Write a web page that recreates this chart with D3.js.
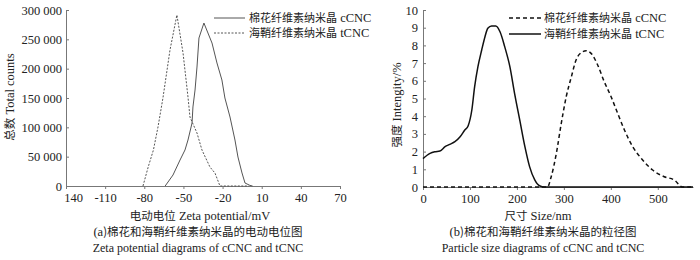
<!DOCTYPE html>
<html><head><meta charset="utf-8">
<script src="https://cdn.jsdelivr.net/npm/d3@7"></script>
<style>
html,body{margin:0;padding:0;background:#fff;}
svg{display:block;}
</style></head>
<body>
<svg id="c" width="700" height="260"></svg>
<script>
// ---- data ----
const zetaTicks = [-140, -110, -80, -50, -20, 10, 40, 70];
const zetaTickLabels = ["140", "-110", "-80", "-50", "-20", "10", "40", "70"];
const countTicks = [0, 50000, 100000, 150000, 200000, 250000, 300000];
const countTickLabels = ["0", "50 000", "100 000", "150 000", "200 000", "250 000", "300 000"];

const cCNC_zeta_x = [-64, -58, -52.6, -48.8, -46.5, -43.4, -42.7, -41.1, -39.6, -38.1, -34.3, -28.1, -24.3, -20.5, -18.2, -14.3, -10.5, -8.2, -5.1, -2.8, 1, 3];
const cCNC_zeta_y = [0, 18700, 44300, 61400, 78400, 107400, 134700, 163600, 202800, 252300, 277800, 243700, 209700, 180700, 150000, 117600, 78400, 49400, 22200, 5100, 1000, 0];
const tCNC_zeta_x = [-81, -77, -73, -69.5, -65.7, -60.3, -55, -50.3, -46.5, -45, -39.6, -35.8, -29.7, -25.8, -22, 0];
const tCNC_zeta_y = [0, 32400, 61400, 100500, 150000, 231800, 291500, 226700, 151700, 117600, 90300, 61400, 32400, 22000, 0, 0];

const sizeTicks = [0, 100, 200, 300, 400, 500];
const intTicks = [0, 1, 2, 3, 4, 5, 6, 7, 8, 9, 10];

const tCNC_size_x = [0, 15, 25, 36, 47, 57, 68, 79, 89, 96, 104, 110, 117, 125, 132, 138, 146, 155, 164, 174, 185, 195, 206, 217, 227, 238, 248, 259, 575];
const tCNC_size_y = [1.6, 1.9, 1.99, 2.03, 2.28, 2.41, 2.56, 2.84, 3.22, 3.45, 4.35, 5.67, 6.8, 7.74, 8.49, 8.97, 9.1, 9.1, 8.77, 7.93, 6.8, 5.29, 3.79, 2.28, 1.15, 0.4, 0.07, 0, 0];
const cCNC_size_x = [0, 265, 273, 284, 294.5, 305, 316, 326, 337, 347.5, 358, 372, 386, 400.6, 414.6, 429, 446.5, 467.7, 489, 513.8, 535, 552.7, 575];
const cCNC_size_y = [0, 0, 0.58, 1.9, 3.6, 5.1, 6.23, 7.18, 7.59, 7.7, 7.55, 6.89, 5.95, 5.1, 4.16, 3.22, 2.28, 1.53, 0.96, 0.58, 0.4, 0, 0];

// ---- drawing ----
const svg = d3.select("#c");
const LAT = "'Liberation Serif','Times New Roman',serif";
const CJK = "'Noto Sans CJK SC','Noto Sans CJK JP',sans-serif";
const TXT = "#222";

function mixed(sel, parts, latSize, cjkSize) {
  parts.forEach(p => {
    sel.append("tspan")
      .attr("font-family", p[1] ? CJK : LAT)
      .attr("font-size", p[1] ? cjkSize : latSize)
      .text(p[0]);
  });
  return sel;
}

function zip(xs, ys) { return xs.map((x, i) => [x, ys[i]]); }

function styleAxis(g) {
  g.selectAll("path.domain").attr("stroke", "#777").attr("stroke-width", 1);
  g.selectAll(".tick line").attr("stroke", "#777");
  g.selectAll(".tick text").attr("font-family", LAT).attr("font-size", "12.5px").attr("fill", TXT);
}

// ===== Left chart =====
const xL = d3.scaleLinear().domain([-140, 70]).range([66, 340]);
const yL = d3.scaleLinear().domain([0, 300000]).range([186, 10]);

const gxL = svg.append("g").attr("transform", `translate(0,${yL(0)})`)
  .call(d3.axisBottom(xL).tickValues(zetaTicks).tickSize(3).tickSizeOuter(0)
    .tickFormat((d, i) => zetaTickLabels[i]));
styleAxis(gxL);
gxL.selectAll(".tick text").attr("dy", "0.8em").attr("dx", (d, i) => i === 0 ? 7 : 0);

const gyL = svg.append("g").attr("transform", `translate(${xL(-140)},0)`)
  .call(d3.axisLeft(yL).tickValues(countTicks).tickSize(-3).tickSizeOuter(0)
    .tickPadding(4).tickFormat((d, i) => countTickLabels[i]));
styleAxis(gyL);

const lineL = d3.line().x(d => xL(d[0])).y(d => yL(d[1]));
svg.append("path").datum(zip(tCNC_zeta_x, tCNC_zeta_y)).attr("d", lineL)
  .attr("fill", "none").attr("stroke", "#555").attr("stroke-width", 1).attr("stroke-dasharray", "2,1.5");
svg.append("path").datum(zip(cCNC_zeta_x, cCNC_zeta_y)).attr("d", lineL)
  .attr("fill", "none").attr("stroke", "#555").attr("stroke-width", 1);

// legend left
const legL = [
  {y: 18, dash: null, parts: [["棉花纤维素纳米晶", 1], [" cCNC", 0]]},
  {y: 33, dash: "2,1.5", parts: [["海鞘纤维素纳米晶", 1], [" tCNC", 0]]}
];
legL.forEach(l => {
  svg.append("line").attr("x1", 214).attr("x2", 245).attr("y1", l.y).attr("y2", l.y)
    .attr("stroke", "#555").attr("stroke-width", 1).attr("stroke-dasharray", l.dash);
  mixed(svg.append("text").attr("x", 249).attr("y", l.y + 4).attr("fill", TXT), l.parts, "12.5px", "11px");
});

// titles left
mixed(svg.append("text").attr("x", 200).attr("y", 220).attr("text-anchor", "middle").attr("fill", TXT),
  [["电动电位", 1], [" Zeta potential/mV", 0]], "12.5px", "11.5px");
mixed(svg.append("text").attr("x", 198).attr("y", 236).attr("text-anchor", "middle").attr("fill", TXT),
  [["(", 0], ["a", 0], [")棉花和海鞘纤维素纳米晶的电动电位图", 1]], "12.5px", "11.5px");
svg.append("text").attr("x", 198).attr("y", 252).attr("text-anchor", "middle").attr("fill", TXT)
  .attr("font-family", LAT).attr("font-size", "12px").text("Zeta potential diagrams of cCNC and tCNC");
mixed(svg.append("text").attr("transform", "translate(14,97) rotate(-90)").attr("text-anchor", "middle").attr("fill", TXT),
  [["总数", 1], [" Total counts", 0]], "12.5px", "11.5px");

// ===== Right chart =====
const xR = d3.scaleLinear().domain([0, 575]).range([423, 693]);
const yR = d3.scaleLinear().domain([0, 10]).range([187, 10]);

const gxR = svg.append("g").attr("transform", `translate(0,${yR(0)})`)
  .call(d3.axisBottom(xR).tickValues(sizeTicks).tickSize(3).tickSizeOuter(0).tickFormat(d3.format("d")));
styleAxis(gxR);
gxR.selectAll(".tick text").attr("dy", "0.8em");

const gyR = svg.append("g").attr("transform", `translate(${xR(0)},0)`)
  .call(d3.axisLeft(yR).tickValues(intTicks).tickSize(-3).tickSizeOuter(0).tickPadding(5).tickFormat(d3.format("d")));
styleAxis(gyR);

const lineR = d3.line().x(d => xR(d[0])).y(d => yR(d[1])).curve(d3.curveMonotoneX);
svg.append("path").datum(zip(cCNC_size_x, cCNC_size_y)).attr("d", lineR)
  .attr("fill", "none").attr("stroke", "#111").attr("stroke-width", 1.5).attr("stroke-dasharray", "4,3");
svg.append("path").datum(zip(tCNC_size_x, tCNC_size_y)).attr("d", lineR)
  .attr("fill", "none").attr("stroke", "#111").attr("stroke-width", 1.5);

const legR = [
  {y: 18, dash: "4,3", parts: [["棉花纤维素纳米晶", 1], [" cCNC", 0]]},
  {y: 34, dash: null, parts: [["海鞘纤维素纳米晶", 1], [" tCNC", 0]]}
];
legR.forEach(l => {
  svg.append("line").attr("x1", 509).attr("x2", 541).attr("y1", l.y).attr("y2", l.y)
    .attr("stroke", "#111").attr("stroke-width", 1.5).attr("stroke-dasharray", l.dash);
  mixed(svg.append("text").attr("x", 544).attr("y", l.y + 4).attr("fill", TXT), l.parts, "12.5px", "11px");
});

mixed(svg.append("text").attr("x", 538).attr("y", 220).attr("text-anchor", "middle").attr("fill", TXT),
  [["尺寸", 1], [" Size/nm", 0]], "12.5px", "11.5px");
mixed(svg.append("text").attr("x", 543).attr("y", 236).attr("text-anchor", "middle").attr("fill", TXT),
  [["(", 0], ["b", 0], [")棉花和海鞘纤维素纳米晶的粒径图", 1]], "12.5px", "11.5px");
svg.append("text").attr("x", 543).attr("y", 252).attr("text-anchor", "middle").attr("fill", TXT)
  .attr("font-family", LAT).attr("font-size", "12px").text("Particle size diagrams of cCNC and tCNC");
mixed(svg.append("text").attr("transform", "translate(401,105) rotate(-90)").attr("text-anchor", "middle").attr("fill", TXT),
  [["强度", 1], [" Intengity/%", 0]], "12.5px", "11.5px");
</script>
</body></html>
